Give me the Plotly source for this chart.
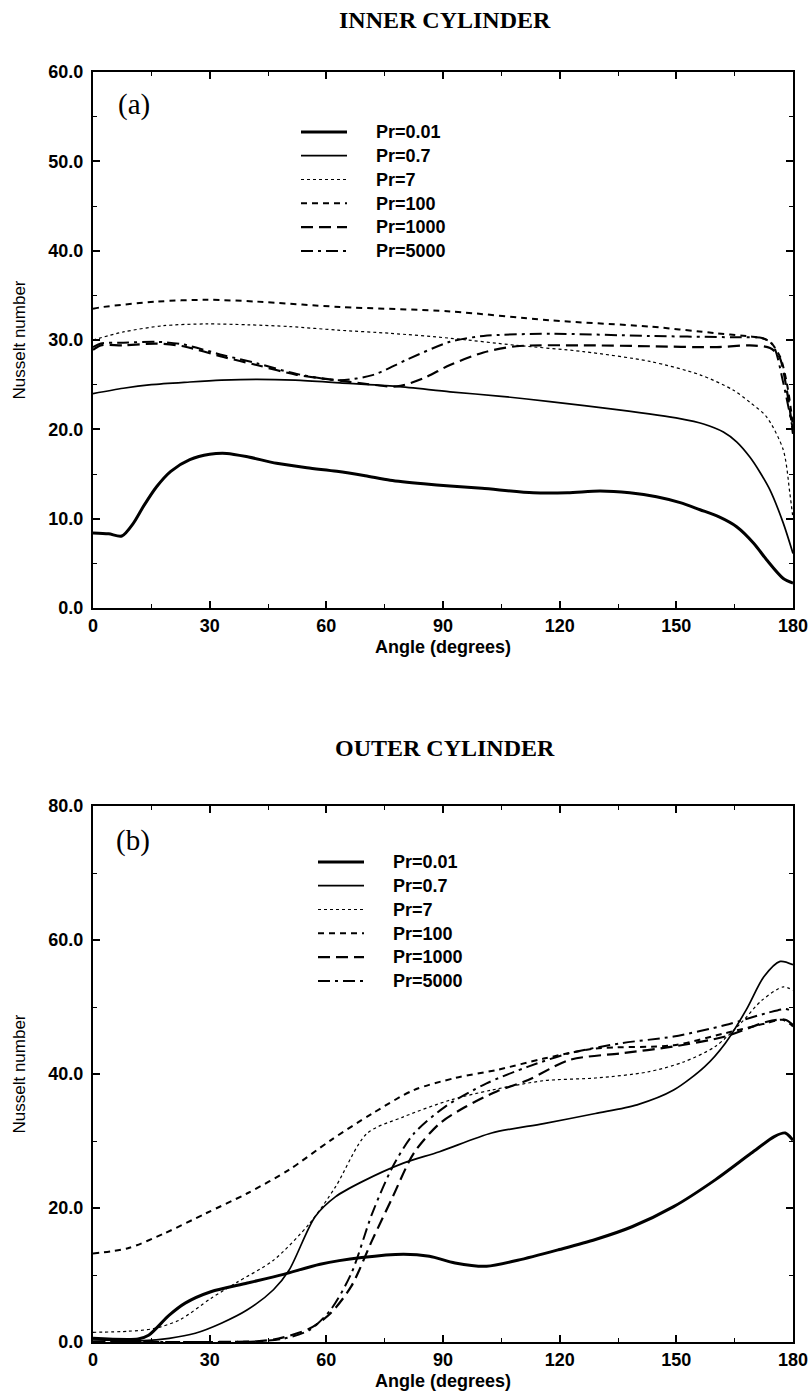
import plotly.graph_objects as go

# ---------------- data: (a) inner cylinder ----------------
series_names = ["Pr=0.01", "Pr=0.7", "Pr=7", "Pr=100", "Pr=1000", "Pr=5000"]

a_in_001 = [0, 4, 7.4, 10.4, 13, 16.4, 20, 24.9, 30, 34.4, 40, 47.2, 55, 62.7, 70, 76.4, 85, 91.8,
            100, 113.2, 122, 130.4, 138, 144.9, 151, 156.1, 161, 165.5, 170, 173.2, 177.5, 180]
nu_in_001 = [8.4, 8.3, 8.06, 9.5, 11.4, 13.6, 15.3, 16.6, 17.2, 17.3, 16.9, 16.2, 15.7, 15.3, 14.8, 14.3,
             13.9, 13.65, 13.4, 12.9, 12.9, 13.1, 12.9, 12.46, 11.8, 11.0, 10.2, 9.1, 7.2, 5.4, 3.3, 2.8]

a_in_07 = [0, 7.8, 15, 24.9, 33, 42.1, 52, 63.5, 78.1, 91.8, 105, 117.5, 134.7, 150.9, 157, 162.1,
           165.5, 168.9, 171.5, 174.1, 177.5, 180]
nu_in_07 = [24.0, 24.6, 25.0, 25.3, 25.5, 25.6, 25.5, 25.2, 24.8, 24.2, 23.7, 23.1, 22.2, 21.2, 20.6, 19.7,
            18.6, 16.9, 15.2, 13.2, 9.5, 6.1]

a_in_7 = [0, 7.8, 18.1, 29.2, 40, 50.7, 63, 76.4, 91.8, 108.9, 126.1, 143.2, 156.1, 164.6, 169, 173.2,
          177.5, 179.2, 180]
nu_in_7 = [30.0, 30.9, 31.6, 31.8, 31.7, 31.5, 31.1, 30.75, 30.2, 29.4, 28.7, 27.6, 26.1, 24.4, 23.0, 21.4,
           17.7, 12.8, 10.0]

a_in_100 = [0, 2.6, 16.4, 29.2, 42.1, 63.5, 91.8, 117.5, 143.2, 160.4, 168.9, 172, 174.1, 176.7, 178.4,
            179.7, 180]
nu_in_100 = [33.5, 33.7, 34.3, 34.5, 34.3, 33.7, 33.2, 32.2, 31.5, 30.75, 30.4, 30.2, 29.8, 28.1, 25.2,
             21.4, 19.5]

a_in_1000 = [0, 2, 7.8, 16.4, 23.2, 33.5, 42.1, 52.4, 63.5, 70, 78.1, 84.9, 91.8, 100.4, 108.9, 126.1,
             143.2, 160.4, 168.9, 174.1, 176.5, 178.4, 179.7, 180]
nu_in_1000 = [28.9, 29.4, 29.4, 29.6, 29.3, 28.1, 27.2, 26.1, 25.45, 25.1, 24.8, 25.7, 27.2, 28.6, 29.3,
              29.4, 29.3, 29.2, 29.4, 29.1, 28.1, 24.4, 20.6, 19.5]

a_in_5000 = [0, 2, 7.8, 16.4, 23.2, 33.5, 42.1, 52.4, 63.5, 72.1, 80.7, 91.8, 100.4, 117.5, 143.2, 164.6,
             172.3, 174.9, 177.5, 179.7, 180]
nu_in_5000 = [29.2, 29.6, 29.7, 29.8, 29.5, 28.3, 27.4, 26.2, 25.5, 26.1, 27.8, 29.8, 30.45, 30.7, 30.45,
              30.3, 30.2, 29.4, 25.2, 20.6, 20.0]

# ---------------- data: (b) outer cylinder ----------------
a_out_001 = [0, 11.6, 14.3, 19.6, 23.7, 30.3, 39.7, 49, 58.4, 69.1, 79.8, 86.5, 93.1, 101.2, 109.2, 119.9,
             129.2, 138.6, 149.3, 160, 169.3, 175.3, 178, 180]
nu_out_001 = [0.55, 0.45, 1.0, 4.0, 5.8, 7.5, 8.8, 10.1, 11.6, 12.6, 13.1, 12.8, 11.8, 11.3, 12.2, 13.8,
              15.3, 17.2, 20.2, 24.2, 28.2, 30.7, 31.2, 30.1]

a_out_07 = [0, 13, 19.6, 26.3, 33, 39.7, 46.4, 50.4, 57.1, 62.4, 69.1, 79.8, 89.1, 102.5, 115.9, 129.2,
            139.9, 149.3, 157.3, 162.6, 168, 172.5, 176.7, 180]
nu_out_07 = [0.3, 0.2, 0.55, 1.3, 2.8, 4.8, 7.8, 10.7, 18.7, 21.7, 23.9, 26.7, 28.4, 31.2, 32.6, 34.1,
             35.4, 37.6, 41.1, 44.6, 49.6, 54.5, 56.8, 56.3]

a_out_7 = [0, 9, 15.6, 22.3, 30.3, 37, 46.4, 55.7, 62.4, 70.4, 79.8, 91.8, 102.5, 115.9, 129.2, 142.6,
           151.9, 160, 166.6, 172, 177.5, 180]
nu_out_7 = [1.45, 1.6, 2.0, 3.3, 6.5, 8.9, 12.2, 17.7, 23.2, 31.1, 33.6, 36.1, 37.6, 39.0, 39.4, 40.3,
            41.8, 44.1, 47.6, 51.0, 53.0, 52.5]

a_out_100 = [0, 9, 18.3, 29, 39.7, 50.4, 61.1, 71.8, 82.5, 93.1, 103.8, 115.9, 129.2, 149.3, 162.6, 173.3,
             177.3, 180]
nu_out_100 = [13.2, 14.0, 16.2, 19.2, 22.2, 25.7, 30.1, 34.1, 37.6, 39.4, 40.6, 42.3, 43.8, 44.3, 46.1,
              47.6, 48.1, 47.1]

a_out_1000 = [0, 30, 42, 47.7, 55.7, 61.1, 66.4, 71.8, 77.1, 82.5, 89.1, 95.8, 103.8, 111.9, 122.5, 135.9,
              149.3, 162.6, 173.3, 178, 180]
nu_out_1000 = [0, 0, 0.1, 0.5, 2.0, 4.3, 8.3, 15.2, 21.7, 28.2, 32.6, 35.1, 37.4, 39.1, 42.1, 43.1, 44.1,
               45.6, 47.8, 48.1, 47.3]

a_out_5000 = [0, 30, 42, 49, 55.7, 61.1, 66.4, 71.8, 77.1, 82.5, 90.5, 101.2, 111.9, 122.5, 135.9, 149.3,
              162.6, 173.3, 178, 180]
nu_out_5000 = [0, 0, 0.1, 0.5, 1.8, 4.8, 10.2, 19.2, 26.2, 31.1, 35.1, 38.6, 41.1, 43.1, 44.6, 45.6, 47.3,
               49.1, 49.7, 49.3]

x_ticks = [0, 30, 60, 90, 120, 150, 180]
y_ticks_in = [0, 10, 20, 30, 40, 50, 60]
y_ticks_out = [0, 20, 40, 60, 80]

# ---------------- styles ----------------
styles = [
    dict(width=3.0, dash="solid"),
    dict(width=1.7, dash="solid"),
    dict(width=1.2, dash="dot"),
    dict(width=2.0, dash="6px,5px"),
    dict(width=2.2, dash="12px,6px"),
    dict(width=2.0, dash="12px,5px,3px,5px"),
]

inner = [(a_in_001, nu_in_001), (a_in_07, nu_in_07), (a_in_7, nu_in_7),
         (a_in_100, nu_in_100), (a_in_1000, nu_in_1000), (a_in_5000, nu_in_5000)]
outer = [(a_out_001, nu_out_001), (a_out_07, nu_out_07), (a_out_7, nu_out_7),
         (a_out_100, nu_out_100), (a_out_1000, nu_out_1000), (a_out_5000, nu_out_5000)]


def legend_label(s):
    # gap between the line sample and the text, text drawn a bit larger than the row height font
    return "\u2003\u2002<span style='font-size:18px'>" + s + "</span>"


fig = go.Figure()
for i, (xs, ys) in enumerate(inner):
    fig.add_trace(go.Scatter(x=xs, y=ys, mode="lines", name=legend_label(series_names[i]),
                             line=dict(color="black", shape="spline", smoothing=0.8, **styles[i]),
                             xaxis="x", yaxis="y", legend="legend"))
for i, (xs, ys) in enumerate(outer):
    fig.add_trace(go.Scatter(x=xs, y=ys, mode="lines", name=legend_label(series_names[i]),
                             line=dict(color="black", shape="spline", smoothing=0.8, **styles[i]),
                             xaxis="x2", yaxis="y2", legend="legend2"))

# geometry: plot area px 72..1342 vertically, 93..793 horizontally
T, B = 72, 1342
H = B - T


def py(p):
    return (B - p) / H


def px(p):
    return (p - 93) / 700.0


sans = "Liberation Sans, Arial, sans-serif"
serif = "Liberation Serif, Times New Roman, serif"
tick_font = dict(family=sans, size=18, color="black", weight="bold")

common_x = dict(range=[0, 180], tickmode="array", tickvals=x_ticks, ticks="inside", ticklen=7,
                tickwidth=1.5, tickcolor="black", showline=True, linecolor="black", linewidth=2,
                mirror="ticks", showgrid=False, zeroline=False, tickfont=tick_font,
                minor=dict(dtick=15, tick0=0, ticks="inside", ticklen=4, tickcolor="black", tickwidth=1),
                title=dict(text="Angle (degrees)", font=dict(family=sans, size=18, color="black",
                                                               weight="bold"), standoff=6))
common_y = dict(ticks="inside", ticklen=7, tickwidth=1.5, tickcolor="black", showline=True,
                linecolor="black", linewidth=2, mirror="ticks", showgrid=False, zeroline=False,
                tickfont=tick_font, tickformat=".1f", ticklabelstandoff=4,
                title=dict(text="Nusselt number", font=dict(family=sans, size=17, color="black"),
                           standoff=18))

legend_font = dict(family=sans, size=16, color="black", weight="bold")

fig.update_layout(
    width=812, height=1399,
    margin=dict(l=93, r=19, t=T, b=1399 - B, autoexpand=False),
    paper_bgcolor="white", plot_bgcolor="white",
    xaxis=dict(domain=[0, 1], anchor="y", **common_x),
    yaxis=dict(domain=[py(608), 1], anchor="x", range=[0, 60], tickmode="array", tickvals=y_ticks_in,
               minor=dict(dtick=5, tick0=0, ticks="inside", ticklen=4, tickcolor="black", tickwidth=1),
               **common_y),
    xaxis2=dict(domain=[0, 1], anchor="y2", **common_x),
    yaxis2=dict(domain=[0, py(806)], anchor="x2", range=[0, 80], tickmode="array", tickvals=y_ticks_out,
                minor=dict(dtick=10, tick0=0, ticks="inside", ticklen=4, tickcolor="black", tickwidth=1),
                **common_y),
    legend=dict(x=px(296), y=py(115), xanchor="left", yanchor="top", bgcolor="rgba(0,0,0,0)",
                font=legend_font, itemwidth=46, traceorder="normal"),
    legend2=dict(x=px(313), y=py(845), xanchor="left", yanchor="top", bgcolor="rgba(0,0,0,0)",
                 font=legend_font, itemwidth=46, traceorder="normal"),
    showlegend=True,
    annotations=[
        dict(text="INNER CYLINDER", x=px(445), y=py(20), xref="paper", yref="paper", showarrow=False,
             xanchor="center", yanchor="middle",
             font=dict(family=serif, size=24, color="black", weight="bold")),
        dict(text="OUTER CYLINDER", x=px(445), y=py(748), xref="paper", yref="paper", showarrow=False,
             xanchor="center", yanchor="middle",
             font=dict(family=serif, size=24, color="black", weight="bold")),
        dict(text="(a)", x=px(134), y=py(104), xref="paper", yref="paper", showarrow=False,
             xanchor="center", yanchor="middle",
             font=dict(family=serif, size=29, color="black")),
        dict(text="(b)", x=px(133), y=py(840), xref="paper", yref="paper", showarrow=False,
             xanchor="center", yanchor="middle",
             font=dict(family=serif, size=29, color="black")),
    ],
)

fig.write_html("out.html")
